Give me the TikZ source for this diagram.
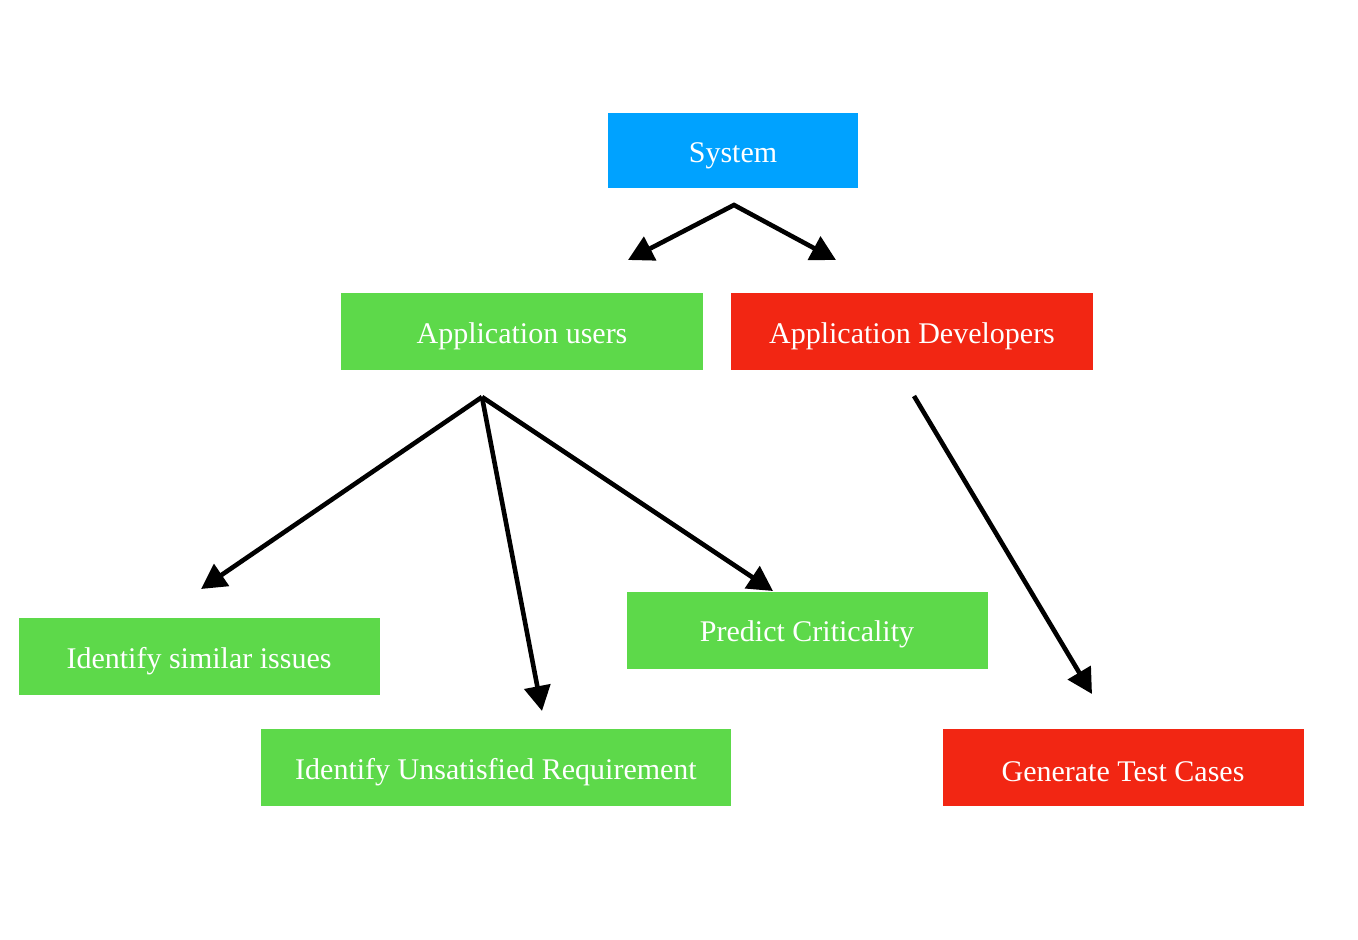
\documentclass[tikz,border=0pt]{standalone}
\usepackage{fontspec}
\setmainfont{Liberation Serif}
\usetikzlibrary{arrows.meta}
\definecolor{cblue}{HTML}{00A2FF}
\definecolor{cgreen}{HTML}{5DD94A}
\definecolor{cred}{HTML}{F22613}
\begin{document}
\begin{tikzpicture}[x=1pt,y=-1pt,
  box/.style={inner sep=0pt, outer sep=0pt, text=white, font=\fontsize{30}{35}\selectfont, anchor=center},
  conn/.style={line width=4.6pt, line join=miter, -{Triangle[length=25pt,width=26pt]}}]
\useasboundingbox[fill=white] (0,0) rectangle (1358,940);
\fill[cblue] (608,113) rectangle (858,188);
\node[box] (sys) at (733,156) {System};
\fill[cgreen] (341,293) rectangle (703,370);
\node[box] (users) at (522,336) {Application users};
\fill[cred] (731,293) rectangle (1093,370);
\node[box] (devs) at (912,336) {Application Developers};
\fill[cgreen] (19,618) rectangle (380,695);
\node[box] (sim) at (199,661) {Identify similar issues};
\fill[cgreen] (261,729) rectangle (731,806);
\node[box] (unsat) at (496,772) {Identify Unsatisfied Requirement};
\fill[cgreen] (627,592) rectangle (988,669);
\node[box] (crit) at (807,634) {Predict Criticality};
\fill[cred] (943,729) rectangle (1304,806);
\node[box] (gen) at (1123,772) {Generate Test Cases};
\coordinate (s0) at (734,205);
\coordinate (s1) at (628,260);
\coordinate (s2) at (836,260);
\coordinate (u0) at (482,397);
\coordinate (u1) at (201,589);
\coordinate (u2) at (542,711);
\coordinate (u3) at (773,591);
\coordinate (d0) at (914,396);
\coordinate (d1) at (1092,694);
\draw[conn, {Triangle[length=25pt,width=26pt]}-{Triangle[length=25pt,width=26pt]}] (s1) -- (s0) -- (s2);
\draw[conn] (u0) -- (u1);
\draw[conn] (u0) -- (u2);
\draw[conn] (u0) -- (u3);
\draw[conn] (d0) -- (d1);
\end{tikzpicture}
\end{document}
